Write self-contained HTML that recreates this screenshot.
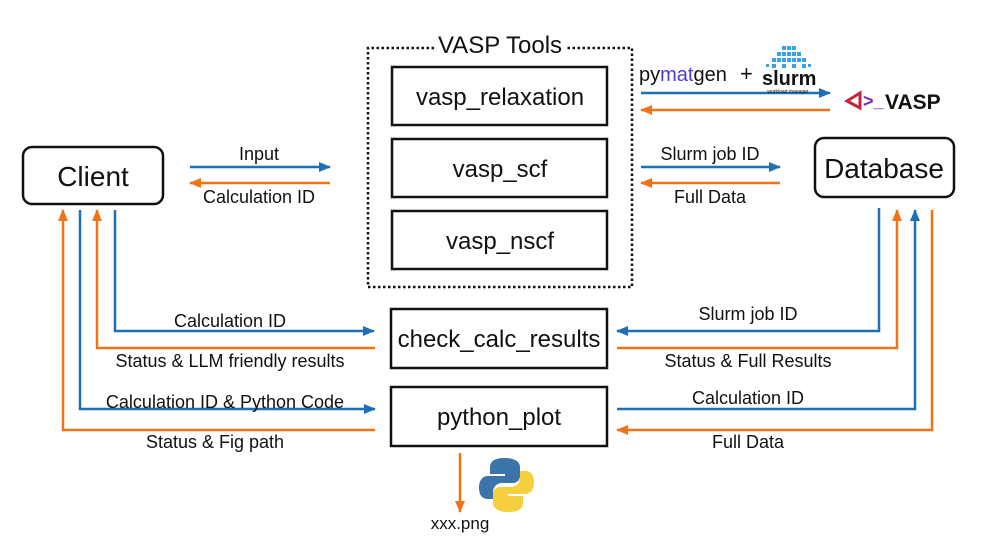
<!DOCTYPE html>
<html><head><meta charset="utf-8"><style>
body{margin:0;background:#fff;}
svg text{font-family:"Liberation Sans",Arial,sans-serif;fill:#111;}
</style></head><body>
<svg width="1000" height="547" viewBox="0 0 1000 547" xmlns="http://www.w3.org/2000/svg">
<defs>
<marker id="ab" viewBox="0 0 12 10" refX="11" refY="5" markerWidth="12" markerHeight="10" markerUnits="userSpaceOnUse" orient="auto"><path d="M0,0L12,5L0,10z" fill="#1f6fb5"/></marker>
<marker id="ao" viewBox="0 0 12 10" refX="11" refY="5" markerWidth="12" markerHeight="10" markerUnits="userSpaceOnUse" orient="auto"><path d="M0,0L12,5L0,10z" fill="#f07318"/></marker>
</defs>
<path d="M434,48 L368,48 L368,287 L632,287 L632,48 L566,48" fill="none" stroke="#111" stroke-width="2.5" stroke-dasharray="2.5,2.5"/>
<text x="500" y="53" font-size="24" text-anchor="middle">VASP Tools</text>
<g fill="none" stroke="#111" stroke-width="2.5">
<rect x="392" y="67" width="215" height="58"/>
<rect x="392" y="139" width="215" height="58"/>
<rect x="392" y="211" width="215" height="58"/>
<rect x="391" y="309" width="216" height="59"/>
<rect x="391" y="387" width="216" height="59"/>
<rect x="23" y="147" width="140" height="57" rx="9"/>
<rect x="815" y="138" width="139" height="59" rx="9"/>
</g>
<g font-size="24" text-anchor="middle">
<text x="500" y="105">vasp_relaxation</text>
<text x="500" y="177">vasp_scf</text>
<text x="500" y="249">vasp_nscf</text>
<text x="499" y="347">check_calc_results</text>
<text x="499" y="425">python_plot</text>
<text x="93" y="186" font-size="28">Client</text>
<text x="884" y="178" font-size="28">Database</text>
</g>
<g fill="none" stroke-width="2.5">
<line x1="190" y1="167" x2="330" y2="167" stroke="#1f6fb5" marker-end="url(#ab)"/>
<line x1="330" y1="183" x2="190" y2="183" stroke="#f07318" marker-end="url(#ao)"/>
<line x1="641" y1="167" x2="780" y2="167" stroke="#1f6fb5" marker-end="url(#ab)"/>
<line x1="780" y1="183" x2="641" y2="183" stroke="#f07318" marker-end="url(#ao)"/>
<line x1="641" y1="93" x2="830" y2="93" stroke="#1f6fb5" marker-end="url(#ab)"/>
<line x1="830" y1="110" x2="641" y2="110" stroke="#f07318" marker-end="url(#ao)"/>
<path d="M375,430 L63,430 L63,210" stroke="#f07318" marker-end="url(#ao)"/>
<path d="M80,210 L80,409 L375,409" stroke="#1f6fb5" marker-end="url(#ab)"/>
<path d="M375,348 L97,348 L97,210" stroke="#f07318" marker-end="url(#ao)"/>
<path d="M115,210 L115,331 L374,331" stroke="#1f6fb5" marker-end="url(#ab)"/>
<path d="M879,208 L879,331 L617,331" stroke="#1f6fb5" marker-end="url(#ab)"/>
<path d="M617,348 L897,348 L897,210" stroke="#f07318" marker-end="url(#ao)"/>
<path d="M617,409 L915,409 L915,210" stroke="#1f6fb5" marker-end="url(#ab)"/>
<path d="M932,210 L932,430 L617,430" stroke="#f07318" marker-end="url(#ao)"/>
<line x1="460" y1="453" x2="460" y2="512" stroke="#f07318" marker-end="url(#ao)"/>
</g>
<g font-size="18" text-anchor="middle">
<text x="259" y="160">Input</text>
<text x="259" y="203">Calculation ID</text>
<text x="710" y="160">Slurm job ID</text>
<text x="710" y="203">Full Data</text>
<text x="230" y="327">Calculation ID</text>
<text x="230" y="367">Status &amp; LLM friendly results</text>
<text x="225" y="408">Calculation ID &amp; Python Code</text>
<text x="215" y="448">Status &amp; Fig path</text>
<text x="748" y="320">Slurm job ID</text>
<text x="748" y="367">Status &amp; Full Results</text>
<text x="748" y="404">Calculation ID</text>
<text x="748" y="448">Full Data</text>
<text x="460" y="529" font-size="17">xxx.png</text>
</g>
<text x="639" y="81" font-size="20">py<tspan style="fill:#4a3bd6">mat</tspan>gen</text>
<text x="740" y="81" font-size="22">+</text>
<g fill="#3aa3e8">
<rect x="782" y="46" width="4" height="4"/><rect x="787" y="46" width="4" height="4"/><rect x="792" y="46" width="4" height="4"/>
<rect x="777" y="52" width="4" height="4"/><rect x="782" y="52" width="4" height="4"/><rect x="787" y="52" width="4" height="4"/><rect x="792" y="52" width="4" height="4"/><rect x="797" y="52" width="4" height="4"/>
<rect x="772" y="58" width="4" height="4"/><rect x="777" y="58" width="4" height="4"/><rect x="782" y="58" width="4" height="4"/><rect x="787" y="58" width="4" height="4"/><rect x="792" y="58" width="4" height="4"/><rect x="797" y="58" width="4" height="4"/><rect x="802" y="58" width="4" height="4"/>
<rect x="766" y="64" width="3" height="3"/><rect x="772" y="64" width="4" height="4"/><rect x="782" y="64" width="4" height="4"/><rect x="792" y="64" width="4" height="4"/><rect x="802" y="64" width="4" height="4"/><rect x="808" y="64" width="3" height="3"/>
</g>
<text x="762" y="85" font-size="20" font-weight="bold">slurm</text>
<text x="788" y="93" font-size="5" text-anchor="middle">workload manager</text>
<g stroke="#c3243a" stroke-width="3" fill="none"><path d="M860,93 L847,101 L860,108 Z"/></g>
<text x="863" y="107" font-size="18" font-weight="bold" style="fill:#7a2aa5">&gt;_</text>
<text x="885" y="109" font-size="21" font-weight="bold">VASP</text>
<g transform="translate(4,0)">
<path d="M501,458 C489,458 486,462 486,468 L486,474 L501,474 L501,476 L484,476 C478,476 475,481 475,488 C475,495 478,499 484,499 L489,499 L489,492 C489,487 493,483 498,483 L509,483 C513,483 516,480 516,476 L516,467 C516,462 511,458 501,458Z" fill="#3a74a8"/>
<path d="M504,512 C516,512 519,508 519,502 L519,496 L504,496 L504,494 L521,494 C527,494 530,489 530,482 C530,475 527,471 521,471 L516,471 L516,478 C516,483 512,487 507,487 L496,487 C492,487 489,490 489,494 L489,503 C489,508 494,512 504,512Z" fill="#f6cf3e"/>
</g>
</svg>
</body></html>
